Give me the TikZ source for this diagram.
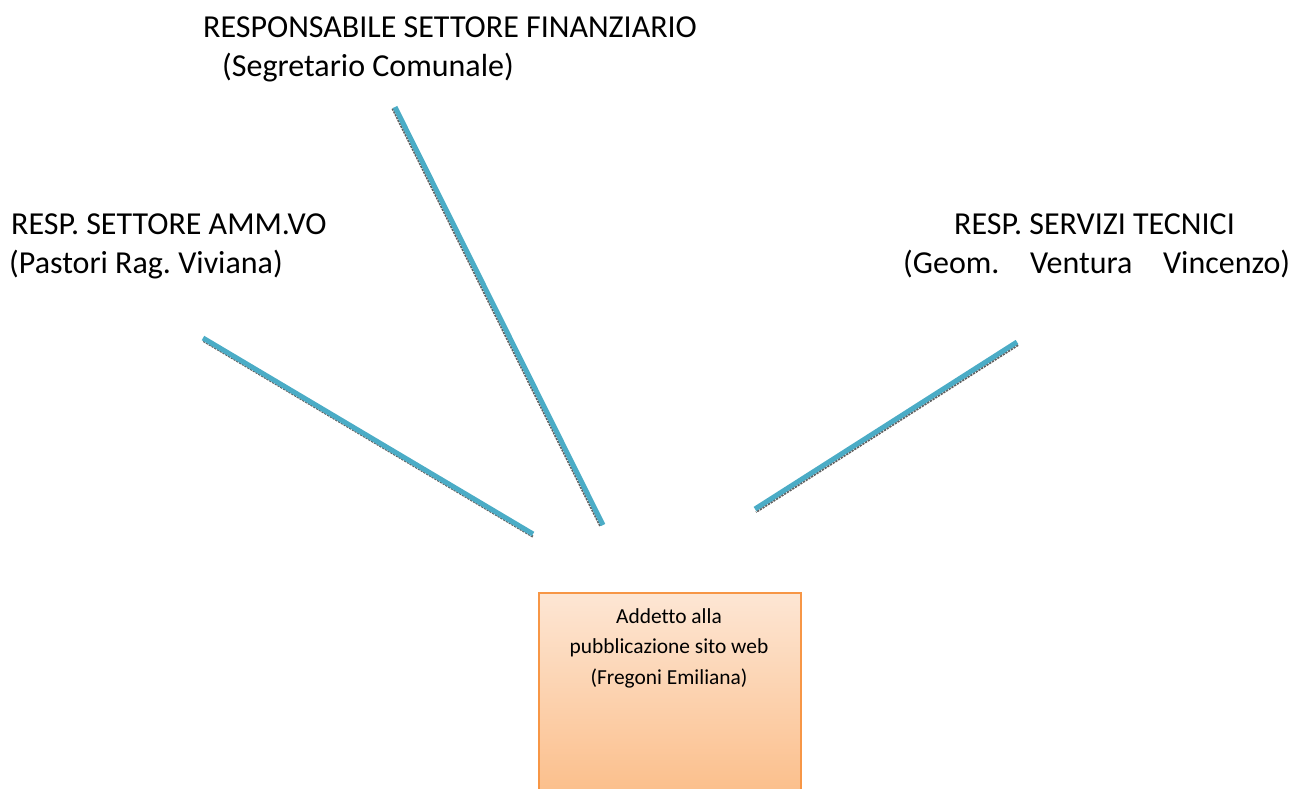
\documentclass[tikz,border=0pt]{standalone}
\usepackage{fontspec}
\setmainfont{Carlito}[Ligatures=NoCommon]
\frenchspacing
\definecolor{linecyan}{HTML}{4BACC6}
\definecolor{boxborder}{HTML}{F79646}
\definecolor{boxtop}{HTML}{FDE6D4}
\definecolor{boxbot}{HTML}{FBBC86}
\begin{document}
\begin{tikzpicture}[x=1pt,y=-1pt,
  lbl/.style={anchor=base west,inner sep=0pt,font=\fontsize{32}{39}\selectfont},
  connline/.style={draw=linecyan,line width=5pt},
  connshadow/.style={draw=gray!75!black,line width=2.2pt,densely dotted},
  boxtxt/.style={align=center,inner sep=0pt,anchor=base,font=\fontsize{21.4}{30.5}\selectfont}]
\useasboundingbox (0,0) rectangle (1298,789);
\clip (0,0) rectangle (1298,789);
% labels
\node[lbl] (fin1) at (203,38) {RESPONSABILE SETTORE FINANZIARIO};
\node[lbl] (fin2) at (222,77) {(Segretario Comunale)};
\node[lbl] (amm1) at (11,234) {RESP. SETTORE AMM.VO};
\node[lbl] (amm2) at (9,273) {(Pastori Rag. Viviana)};
\node[lbl] (tec1) at (954,234) {RESP. SERVIZI TECNICI};
\node[lbl] (tec2) at (903,273) {\makebox[387pt][s]{(Geom.\hfill Ventura\hfill Vincenzo)}};
% box
\node[draw=boxborder,line width=1.5pt,top color=boxtop,bottom color=boxbot,
      minimum width=262pt,minimum height=215pt,anchor=north west,inner sep=0pt] (box) at (538,592) {};
\node[boxtxt] (boxt) at (669,684) {Addetto alla\\pubblicazione sito web\\(Fregoni Emiliana)};
% line endpoints
\coordinate (a1) at (203,338); \coordinate (a2) at (533,534);
\coordinate (b1) at (395,107); \coordinate (b2) at (603,525);
\coordinate (c1) at (1017,342); \coordinate (c2) at (755,509);
% shadows
\draw[connshadow] ([shift={(0.5,3)}]a1) -- ([shift={(0.5,3)}]a2);
\draw[connshadow] ([shift={(-2.5,1.5)}]b1) -- ([shift={(-2.5,1.5)}]b2);
\draw[connshadow] ([shift={(1,3)}]c1) -- ([shift={(1,3)}]c2);
% lines
\draw[connline] (a1) -- (a2);
\draw[connline] (b1) -- (b2);
\draw[connline] (c1) -- (c2);
\end{tikzpicture}
\end{document}
